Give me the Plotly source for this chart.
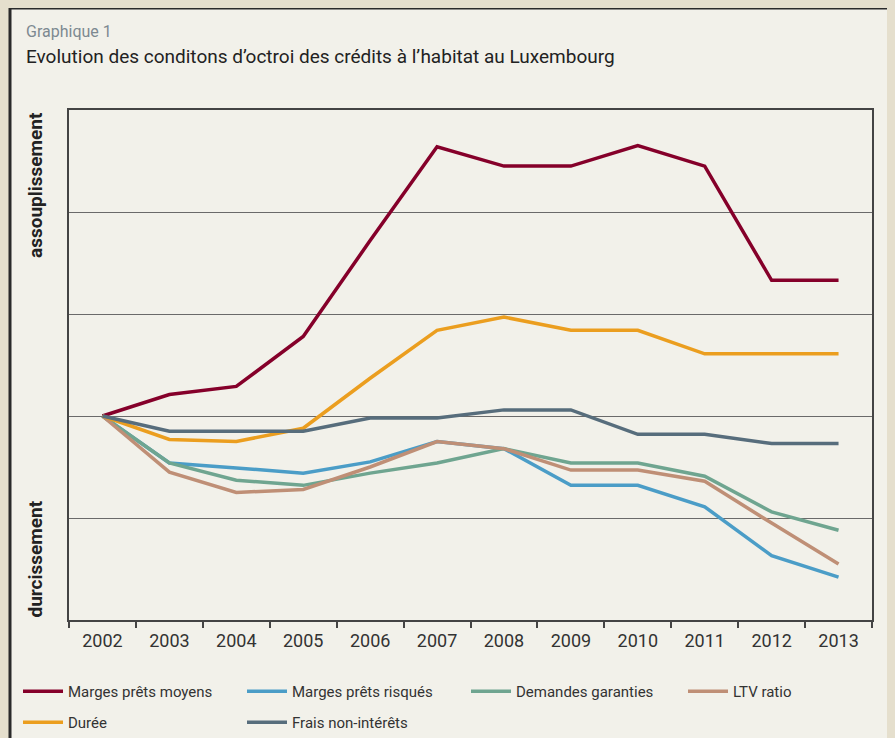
import plotly.graph_objects as go

years = ["2002", "2003", "2004", "2005", "2006", "2007", "2008", "2009", "2010", "2011", "2012", "2013"]

marges_moyens = [2.0, 2.21, 2.29, 2.78, 3.72, 4.64, 4.45, 4.45, 4.65, 4.45, 3.33, 3.33]
marges_risques = [2.0, 1.54, 1.49, 1.44, 1.55, 1.75, 1.68, 1.32, 1.32, 1.11, 0.63, 0.42]
demandes_garanties = [2.0, 1.54, 1.37, 1.32, 1.44, 1.54, 1.68, 1.54, 1.54, 1.41, 1.06, 0.88]
ltv_ratio = [2.0, 1.45, 1.25, 1.28, 1.50, 1.75, 1.68, 1.47, 1.47, 1.36, 0.95, 0.55]
duree = [2.0, 1.77, 1.75, 1.88, 2.37, 2.84, 2.97, 2.84, 2.84, 2.61, 2.61, 2.61]
frais = [2.0, 1.85, 1.85, 1.85, 1.98, 1.98, 2.06, 2.06, 1.82, 1.82, 1.73, 1.73]

series = [
    ("Marges prêts moyens", marges_moyens, "#85002a", "legend"),
    ("Marges prêts risqués", marges_risques, "#4b9dc7", "legend"),
    ("Demandes garanties", demandes_garanties, "#6fa590", "legend"),
    ("LTV ratio", ltv_ratio, "#bf8f76", "legend2"),
    ("Durée", duree, "#eb9e1f", "legend3"),
    ("Frais non-intérêts", frais, "#576d7c", "legend3"),
]

FONT = "Roboto, DejaVu Sans, sans-serif"

fig = go.Figure()
for name, vals, col, leg in series:
    fig.add_trace(go.Scatter(x=years, y=vals, mode="lines", name=name, legend=leg,
                             line=dict(color=col, width=3.5)))

# page body has an 8px margin: the figure is drawn from (8, 8) of the window
OFF = 8
W, H = 895, 738
L, T = 69 - OFF, 110 - OFF
R = W - (872 - OFF)
B = H - (620 - OFF)
pw, ph = W - L - R, H - T - B

def px(x):
    return (x - OFF - L) / pw

def py(y):
    return (H - B - (y - OFF)) / ph

fig.add_shape(type="rect", xref="paper", yref="paper",
              x0=px(10), x1=px(915), y0=py(8), y1=py(760),
              fillcolor="#f2f1ea", line=dict(color="#2a2a2a", width=3), layer="below")

fig.add_annotation(xref="paper", yref="paper", x=px(24), y=py(31), xanchor="left", yanchor="middle",
                   text="Graphique 1", showarrow=False,
                   font=dict(family=FONT, size=16, color="#7d8991"))
fig.add_annotation(xref="paper", yref="paper", x=px(24), y=py(57), xanchor="left", yanchor="middle",
                   text="Evolution des conditons d’octroi des crédits à l’habitat au Luxembourg", showarrow=False,
                   font=dict(family=FONT, size=19, color="#222222"))
fig.add_annotation(xref="paper", yref="paper", x=px(35), y=1, xanchor="center", yanchor="top",
                   text="<b>assouplissement</b>", textangle=-90, showarrow=False,
                   font=dict(family=FONT, size=19, color="#222222"))
fig.add_annotation(xref="paper", yref="paper", x=px(35), y=0, xanchor="center", yanchor="bottom",
                   text="<b>durcissement</b>", textangle=-90, showarrow=False,
                   font=dict(family=FONT, size=19, color="#222222"))

legfont = dict(family=FONT, size=15, color="#333333")
legcommon = dict(orientation="h", xanchor="left", yanchor="top",
                 entrywidthmode="pixels", itemwidth=40,
                 font=legfont, bgcolor="rgba(0,0,0,0)")

fig.update_layout(
    width=W, height=H,
    margin=dict(l=L, r=R, t=T, b=B, autoexpand=False),
    paper_bgcolor="#e5dfcd",
    plot_bgcolor="rgba(0,0,0,0)",
    font=dict(family=FONT, color="#333333"),
    showlegend=True,
    legend=dict(x=px(18), y=py(675), entrywidth=169, **legcommon),
    legend2=dict(x=px(683), y=py(675), entrywidth=100, **legcommon),
    legend3=dict(x=px(18), y=py(706), entrywidth=169, **legcommon),
    xaxis=dict(type="category", tickson="boundaries", ticks="outside", ticklen=6,
               tickcolor="#444444", tickwidth=1.5, ticklabelstandoff=4,
               showline=True, linecolor="#444444", linewidth=1.5, mirror=True,
               showgrid=False, tickfont=dict(family=FONT, size=18, color="#333333"),
               range=[-0.5, 11.5]),
    yaxis=dict(range=[0, 5], dtick=1, showticklabels=False, ticks="",
               showgrid=True, gridcolor="#6a6a6a", gridwidth=1.2, zeroline=False,
               showline=True, linecolor="#444444", linewidth=1.5, mirror=True),
)

fig.write_html("out.html", config={"displayModeBar": False},
               post_script="document.body.style.background='#e5dfcd';")
